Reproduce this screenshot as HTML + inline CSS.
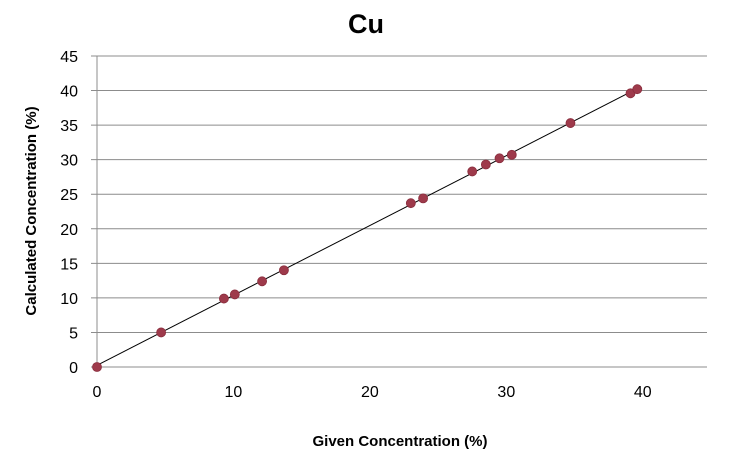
<!DOCTYPE html>
<html><head><meta charset="utf-8"><style>
body{margin:0;background:#fff;}
svg{display:block;font-family:"Liberation Sans",sans-serif;}
</style></head><body>
<svg id="chart" width="735" height="453">
<text x="366" y="33" text-anchor="middle" font-size="27" font-weight="bold">Cu</text>
<g id="grid"></g><g id="axes"></g><g id="marks"></g>
<text x="400" y="446" text-anchor="middle" font-size="15" font-weight="bold">Given Concentration (%)</text>
<text transform="translate(36,211) rotate(-90)" text-anchor="middle" font-size="15" font-weight="bold">Calculated Concentration (%)</text>
</svg>
<script>
const givenValues=[0,4.7,9.3,10.1,12.1,13.7,23,23.9,27.5,28.5,29.5,30.4,34.7,39.1,39.6];
const calcValues=[0,5,9.9,10.5,12.4,14,23.7,24.4,28.3,29.3,30.2,30.7,35.3,39.6,40.2];
const xTicks=[0,10,20,30,40];
const yTicks=[0,5,10,15,20,25,30,35,40,45];
const NS="http://www.w3.org/2000/svg";
const x0=97,x1=711,y0=367,y1=56;
const xs=v=>x0+(v/45)*(x1-x0);
const ys=v=>y0-(v/45)*(y0-y1);
function mk(t,a,p){const e=document.createElementNS(NS,t);for(const k in a)e.setAttribute(k,a[k]);document.getElementById(p).appendChild(e);return e;}
yTicks.forEach(v=>{
 if(v>0){const g=mk('line',{x1:91,x2:707,y1:ys(v),y2:ys(v),stroke:'#8c8c8c','stroke-width':1},'grid');
 }
 const t=mk('text',{x:78,y:ys(v)+6,'text-anchor':'end','font-size':16,fill:'#000'},'axes');t.textContent=v;
 
});
xTicks.forEach(v=>{
 const t=mk('text',{x:xs(v),y:397,'text-anchor':'middle','font-size':16,fill:'#000'},'axes');t.textContent=v;
 
});
const ya=mk('line',{x1:x0,x2:x0,y1:y1,y2:y0,stroke:'#8c8c8c'},'axes');

const xa=mk('line',{x1:91,x2:707,y1:y0,y2:y0,stroke:'#8c8c8c'},'axes');

// least squares trendline
const n=givenValues.length;let sx=0,sy=0,sxx=0,sxy=0;
givenValues.forEach((g,i)=>{sx+=g;sy+=calcValues[i];sxx+=g*g;sxy+=g*calcValues[i];});
const m=(n*sxy-sx*sy)/(n*sxx-sx*sx),b=(sy-m*sx)/n;
const gmin=Math.min(...givenValues),gmax=Math.max(...givenValues);
const tl=mk('line',{x1:xs(gmin),y1:ys(m*gmin+b),x2:xs(gmax),y2:ys(m*gmax+b),stroke:'#000','stroke-width':1},'marks');

givenValues.forEach((g,i)=>{
 const c=mk('circle',{cx:xs(g),cy:ys(calcValues[i]),r:4.5,fill:'#9e3a4b',stroke:'#8a2e3e','stroke-width':0.8},'marks');
 
});
</script>
</body></html>
